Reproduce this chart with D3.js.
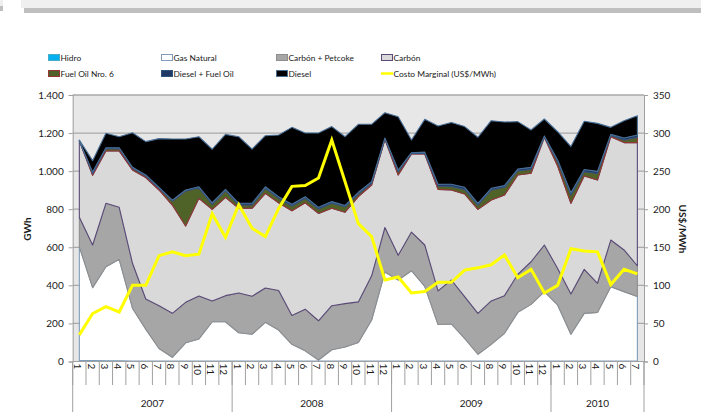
<!DOCTYPE html>
<html>
<head>
<meta charset="utf-8">
<script src="https://cdn.jsdelivr.net/npm/d3@7"></script>
<style>
  html, body { margin: 0; padding: 0; background: #ffffff; }
  svg { display: block; font-family: Lato, "Open Sans", sans-serif; }
</style>
</head>
<body>
<svg id="chart" width="701" height="412"></svg>
<script>
// Monthly generation by fuel (GWh) and marginal cost (US$/MWh), Jan 2007 – Jul 2010
const monthLabels = ['1','2','3','4','5','6','7','8','9','10','11','12',
                     '1','2','3','4','5','6','7','8','9','10','11','12',
                     '1','2','3','4','5','6','7','8','9','10','11','12',
                     '1','2','3','4','5','6','7'];
const yearLabels = ['2007','2008','2009','2010'];
const monthsPerYear = [12, 12, 12, 7];

const hidro = [5,5,4,4,3,3,3,3,3,3,3,3,3,3,3,3,3,3,3,3,3,3,3,3,3,3,3,3,3,3,3,3,3,3,3,3,3,3,3,3,3,3,3];
const gasNatural = [598,383,494,533,277,167,65,19,95,115,206,206,148,140,203,162,87,53,5,59,73,97,215,467,425,474,392,191,194,119,35,87,145,255,297,364,294,140,250,255,390,364,338];
const carbonPetcoke = [155,224,333,273,236,158,225,231,213,226,109,137,209,200,180,208,152,219,206,231,228,213,232,234,130,203,217,177,231,219,215,228,198,200,224,245,192,212,231,153,245,219,162];
const carbon = [402,366,275,296,490,638,608,569,401,513,481,516,445,462,497,461,550,559,564,512,480,553,477,463,422,410,478,533,473,539,546,530,529,522,465,566,538,476,490,542,543,564,647];
const fuelOil6 = [0,10,12,12,9,8,9,21,184,54,28,35,17,17,27,23,25,23,23,26,29,14,9,3,17,3,4,18,19,24,23,53,40,22,20,3,23,44,23,35,7,14,28];
const dieselFuelOil = [0,7,5,5,5,6,5,5,5,7,7,7,9,9,8,9,9,9,9,9,7,9,9,4,9,4,6,10,11,11,9,9,9,9,11,4,9,12,12,11,5,10,12];
const diesel = [3,60,76,58,182,175,256,321,268,263,281,289,350,285,268,324,404,334,390,394,361,357,301,133,280,67,172,305,325,319,347,355,334,249,196,89,148,242,253,252,37,91,101];
const costoMarginal = [35,63,72,65,100,100,139,144,139,141,194,163,206,175,164,201,230,231,241,291,236,181,164,107,111,90,92,104,104,120,123,127,140,110,121,90,100,148,145,144,101,121,115];

const leftTicks = [0,200,400,600,800,1000,1200,1400];
const rightTicks = [0,50,100,150,200,250,300,350];

const seriesDefs = [
  { key: 'Hidro', values: hidro, fill: '#00b0f0', stroke: '#4bacc6' },
  { key: 'Gas Natural', values: gasNatural, fill: '#ffffff', stroke: '#7f9dba' },
  { key: 'Carbón + Petcoke', values: carbonPetcoke, fill: '#a6a6a6', stroke: '#8e8e8e' },
  { key: 'Carbón', values: carbon, fill: '#d9d9d9', stroke: '#5a4a78' },
  { key: 'Fuel Oil Nro. 6', values: fuelOil6, fill: '#4f6228', stroke: '#943634' },
  { key: 'Diesel + Fuel Oil', values: dieselFuelOil, fill: '#1f3864', stroke: '#2e5580' },
  { key: 'Diesel', values: diesel, fill: '#000000', stroke: '#4a6f96' }
];
const costName = 'Costo Marginal (US$/MWh)';

const svg = d3.select('#chart');
const W = 701, H = 412;

// header band
svg.append('rect').attr('x', 0).attr('y', 0).attr('width', W).attr('height', 8).attr('fill', '#efefef');
svg.append('rect').attr('x', 24).attr('y', 8).attr('width', W - 24).attr('height', 5).attr('fill', '#bfbfbf');
svg.append('rect').attr('x', 0).attr('y', 6).attr('width', 3).attr('height', 5).attr('fill', '#bfbfbf');
svg.append('rect').attr('x', 3).attr('y', 0).attr('width', 18).attr('height', 12).attr('fill', '#ffffff');

const plot = { left: 72.7, right: 644, top: 95, bottom: 361.5 };

const rows = monthLabels.map((m, i) => {
  const r = { i };
  seriesDefs.forEach(s => { r[s.key] = s.values[i]; });
  return r;
});

const x = d3.scaleBand().domain(d3.range(monthLabels.length)).range([plot.left, plot.right]).padding(0);
const xc = i => x(i) + x.bandwidth() / 2;
const y = d3.scaleLinear().domain([0, 1400]).range([plot.bottom, plot.top]);
const y2 = d3.scaleLinear().domain([0, 350]).range([plot.bottom, plot.top]);

const loc = d3.formatLocale({ decimal: ',', thousands: '.', grouping: [3], currency: ['$', ''] });
const fmt = loc.format(',d');

// plot background
svg.append('rect')
  .attr('x', plot.left).attr('y', plot.top)
  .attr('width', plot.right - plot.left).attr('height', plot.bottom - plot.top)
  .attr('fill', '#e7e7e7');

// gridlines
svg.append('g').selectAll('line').data(leftTicks.filter(d => d > 0)).join('line')
  .attr('x1', plot.left).attr('x2', plot.right)
  .attr('y1', d => y(d)).attr('y2', d => y(d))
  .attr('stroke', '#a9a9a9').attr('stroke-width', 1.3);

// stacked areas
const stack = d3.stack().keys(seriesDefs.map(s => s.key));
const stacked = stack(rows);
const area = d3.area()
  .x(d => xc(d.data.i))
  .y0(d => y(d[0]))
  .y1(d => y(d[1]));

svg.append('g').selectAll('path').data(stacked).join('path')
  .attr('d', area)
  .attr('fill', (d, k) => seriesDefs[k].fill)
  .attr('stroke', (d, k) => seriesDefs[k].stroke)
  .attr('stroke-width', 1.1)
  .attr('stroke-linejoin', 'round');

// marginal cost line (right axis)
const line = d3.line().x((d, i) => xc(i)).y(d => y2(d));
svg.append('path')
  .datum(costoMarginal)
  .attr('d', line)
  .attr('fill', 'none')
  .attr('stroke', '#ffff00')
  .attr('stroke-width', 3)
  .attr('stroke-linejoin', 'miter');

// left axis
const leftAxis = d3.axisLeft(y).tickValues(leftTicks).tickFormat(fmt).tickSize(4).tickPadding(5);
const gl = svg.append('g').attr('transform', `translate(${plot.left},0)`).call(leftAxis);
gl.select('.domain').attr('stroke', '#a0a0a0');
gl.selectAll('.tick line').attr('stroke', '#a0a0a0');
gl.selectAll('.tick text').attr('font-size', 10).attr('font-family', 'Lato, sans-serif').attr('fill', '#1a1a1a');

// right axis
const rightAxis = d3.axisRight(y2).tickValues(rightTicks).tickFormat(d3.format('d')).tickSize(4).tickPadding(5);
const gr = svg.append('g').attr('transform', `translate(${plot.right},0)`).call(rightAxis);
gr.select('.domain').attr('stroke', '#a0a0a0');
gr.selectAll('.tick line').attr('stroke', '#a0a0a0');
gr.selectAll('.tick text').attr('font-size', 10).attr('font-family', 'Lato, sans-serif').attr('fill', '#1a1a1a');

// category axis
svg.append('line')
  .attr('x1', plot.left).attr('x2', plot.right)
  .attr('y1', plot.bottom).attr('y2', plot.bottom)
  .attr('stroke', '#a0a0a0');

const gx = svg.append('g');
gx.selectAll('line.mt').data(d3.range(monthLabels.length + 1)).join('line')
  .attr('class', 'mt')
  .attr('x1', i => i < monthLabels.length ? x(i) : plot.right)
  .attr('x2', i => i < monthLabels.length ? x(i) : plot.right)
  .attr('y1', plot.bottom).attr('y2', 385)
  .attr('stroke', '#a0a0a0');

gx.selectAll('text.ml').data(monthLabels).join('text')
  .attr('class', 'ml')
  .attr('transform', (d, i) => `translate(${xc(i) - 1},${plot.bottom + 2}) rotate(90)`)
  .attr('dominant-baseline', 'central')
  .attr('text-anchor', 'start')
  .attr('font-size', 10)
  .attr('fill', '#1a1a1a')
  .text(d => d);

// year groups
let start = 0;
const yearSpans = yearLabels.map((yl, k) => {
  const s = start; start += monthsPerYear[k];
  return { label: yl, s, e: start };
});
const bx = i => i < monthLabels.length ? x(i) : plot.right;
gx.selectAll('line.yt').data(yearSpans.map(d => d.s).concat([monthLabels.length])).join('line')
  .attr('class', 'yt')
  .attr('x1', bx).attr('x2', bx)
  .attr('y1', plot.bottom).attr('y2', H)
  .attr('stroke', '#a0a0a0');
gx.selectAll('text.yl').data(yearSpans).join('text')
  .attr('class', 'yl')
  .attr('x', d => (bx(d.s) + bx(d.e)) / 2)
  .attr('y', 403)
  .attr('dominant-baseline', 'central')
  .attr('text-anchor', 'middle')
  .attr('font-size', 10)
  .attr('fill', '#1a1a1a')
  .text(d => d.label);

// axis titles
svg.append('text')
  .attr('transform', 'translate(27,229) rotate(-90)')
  .attr('text-anchor', 'middle').attr('dominant-baseline', 'central')
  .attr('font-size', 10).attr('font-weight', 'bold').attr('fill', '#1a1a1a')
  .text('GWh');
svg.append('text')
  .attr('transform', 'translate(683,229) rotate(90)')
  .attr('text-anchor', 'middle').attr('dominant-baseline', 'central')
  .attr('font-size', 10).attr('font-weight', 'bold').attr('fill', '#1a1a1a')
  .text('US$/MWh');

// legend
const legendItems = seriesDefs.map(s => ({ name: s.key, fill: s.fill, stroke: s.stroke, type: 'area' }))
  .concat([{ name: costName, fill: '#ffff00', stroke: '#ffff00', type: 'line' }]);
const colX = [48, 161, 276, 381];
const rowY = [57.5, 73.5];
const lg = svg.append('g');
legendItems.forEach((it, k) => {
  const cx = colX[k % 4], cy = rowY[Math.floor(k / 4)];
  if (it.type === 'area') {
    lg.append('rect').attr('x', cx + 0.5).attr('y', cy - 3).attr('width', 11).attr('height', 6)
      .attr('fill', it.fill).attr('stroke', it.stroke).attr('stroke-width', 1);
  } else {
    lg.append('line').attr('x1', cx).attr('x2', cx + 12).attr('y1', cy).attr('y2', cy)
      .attr('stroke', it.fill).attr('stroke-width', 2.5);
  }
  lg.append('text').attr('x', cx + 12.5).attr('y', cy)
    .attr('dominant-baseline', 'central')
    .attr('font-size', 8.4).attr('fill', '#1a1a1a')
    .text(it.name);
});
</script>
</body>
</html>
